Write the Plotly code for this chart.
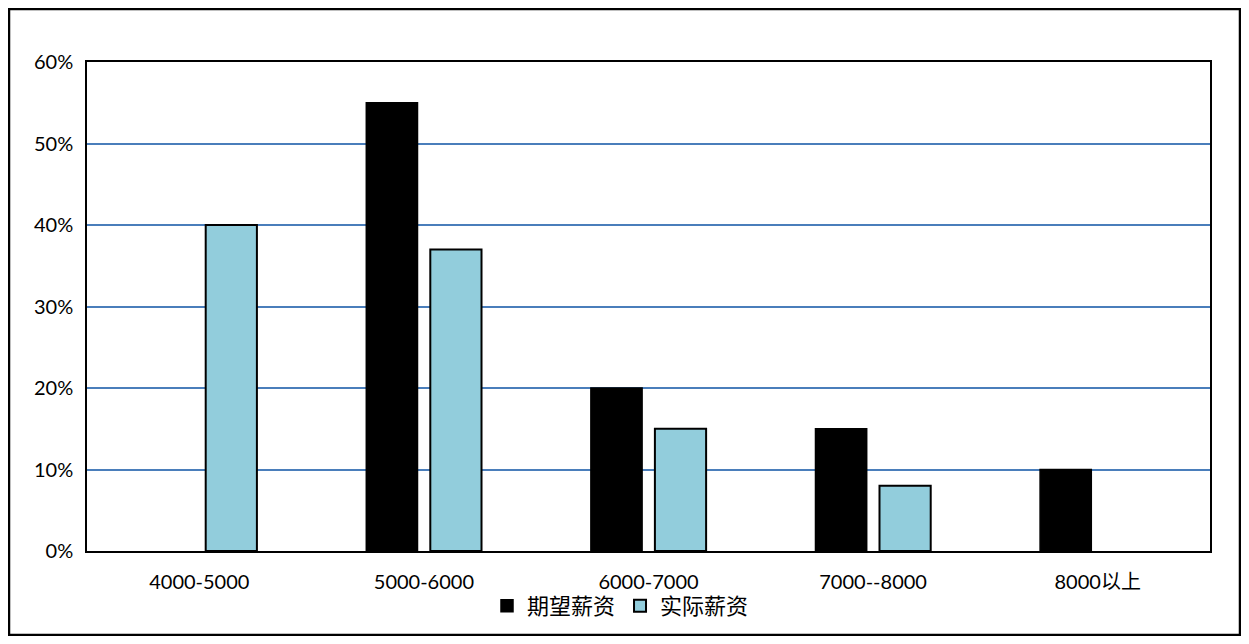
import plotly.graph_objects as go

categories = ["4000-5000", "5000-6000", "6000-7000", "7000--8000", "8000以上"]
expected = [0, 55, 20, 15, 10]
actual = [40, 37, 15, 8, 0]
series_names = ["期望薪资", "实际薪资"]
y_ticks = [0, 10, 20, 30, 40, 50, 60]

fig = go.Figure()
fig.add_trace(go.Bar(x=categories, y=[v if v else None for v in expected], name=series_names[0],
                     marker=dict(color="#000000", line=dict(color="#000000", width=1.5))))
fig.add_trace(go.Bar(x=categories, y=[v if v else None for v in actual], name=series_names[1],
                     marker=dict(color="#92CDDC", line=dict(color="#000000", width=2))))

OFF = 8  # page body margin
W, H = 1233, 628
L, T, R, B = 87 - OFF, 62 - OFF, 1210 - OFF, 551 - OFF
pw, ph = R - L, B - T

fig.update_layout(
    width=W, height=H,
    margin=dict(l=L, r=W - R, t=T, b=H - B, autoexpand=False),
    paper_bgcolor="white", plot_bgcolor="white",
    barmode="group", bargap=0.43, bargroupgap=0.2,
    font=dict(family="Lato, Noto Sans CJK SC", size=20, color="#000000"),
    showlegend=True,
    legend=dict(orientation="h", x=0.5 - 28 / pw, xanchor="center", y=(B - (606 - OFF)) / ph, yanchor="middle",
                font=dict(family="Noto Sans CJK SC", size=22), itemwidth=30,
                tracegroupgap=0, bgcolor="rgba(0,0,0,0)"),
    xaxis=dict(showline=True, linecolor="#000000", linewidth=1.5, mirror=True, automargin=False,
               ticks="", showgrid=False, tickfont=dict(size=20), ticklabelstandoff=12),
    yaxis=dict(range=[0, 60], tickvals=y_ticks, ticktext=[f"{v}%" for v in y_ticks],
               showline=True, linecolor="#000000", linewidth=1.5, mirror=True, automargin=False,
               gridcolor="#4A7EBB", gridwidth=1.5, zeroline=False, ticks="",
               tickfont=dict(size=20), ticklabelstandoff=8),
)

# outer chart border
fig.add_shape(type="rect", xref="paper", yref="paper",
              x0=(1 - L) / pw, x1=(W - 1 - L) / pw,
              y0=(B - (H - 1)) / ph, y1=(B - 1) / ph,
              line=dict(color="#000000", width=2.5), fillcolor="rgba(0,0,0,0)", layer="above")

fig.write_html("out.html")
